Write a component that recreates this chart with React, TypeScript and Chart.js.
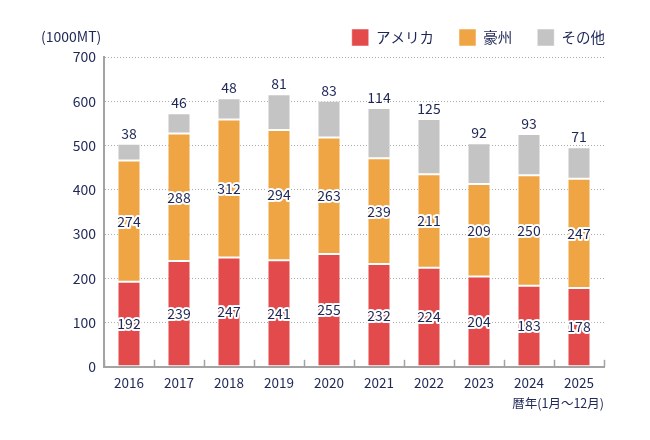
import { useEffect, useRef } from "react";
import { Chart, registerables } from "chart.js";

Chart.register(...registerables);

const years = ["2016", "2017", "2018", "2019", "2020", "2021", "2022", "2023", "2024", "2025"];
const america = [192, 239, 247, 241, 255, 232, 224, 204, 183, 178];
const australia = [274, 288, 312, 294, 263, 239, 211, 209, 250, 247];
const others = [38, 46, 48, 81, 83, 114, 125, 92, 93, 71];
const yTicks = [0, 100, 200, 300, 400, 500, 600, 700];

const TEXT = "#1e2756";
const FONT = "'Noto Sans CJK JP', 'Noto Sans', sans-serif";

const labelsPlugin = {
  id: "stackLabels",
  beforeLayout(chart: any) {
    const lg = chart.legend;
    if (lg && !lg.__patched) {
      const orig = lg.fit;
      lg.fit = function () {
        orig.call(this);
        this.height = 53;
      };
      lg.__patched = true;
    }
  },
  afterLayout(chart: any) {
    // push the legend flush with the right end of the plot
    const lg = chart.legend;
    if (lg) {
      lg.left += 26;
      lg.right += 26;
    }
  },
  afterDatasetsDraw(chart: any) {
    const { ctx, chartArea, scales } = chart;
    ctx.save();
    // inner tick marks between categories
    const xs = scales.x;
    const step = xs.getPixelForValue(1) - xs.getPixelForValue(0);
    ctx.strokeStyle = "#a3a3a3";
    ctx.lineWidth = 1.5;
    for (let i = 0; i <= years.length; i++) {
      const x = Math.round(xs.getPixelForValue(i) - step / 2) + 0.5;
      ctx.beginPath();
      ctx.moveTo(x, chartArea.bottom);
      ctx.lineTo(x, chartArea.bottom - 7);
      ctx.stroke();
    }

    ctx.font = `14px ${FONT}`;
    ctx.textAlign = "center";
    ctx.lineJoin = "round";
    [0, 1].forEach((di) => {
      const meta = chart.getDatasetMeta(di);
      const data = chart.data.datasets[di].data as number[];
      meta.data.forEach((bar: any, i: number) => {
        const y = (bar.y + bar.base) / 2;
        ctx.textBaseline = "middle";
        ctx.lineWidth = 4;
        ctx.strokeStyle = "#ffffff";
        ctx.strokeText(String(data[i]), bar.x, y);
        ctx.fillStyle = TEXT;
        ctx.fillText(String(data[i]), bar.x, y);
      });
    });
    const meta = chart.getDatasetMeta(2);
    meta.data.forEach((bar: any, i: number) => {
      ctx.textBaseline = "alphabetic";
      ctx.fillStyle = TEXT;
      ctx.fillText(String(others[i]), bar.x, bar.y - 5);
    });

    ctx.font = `14px ${FONT}`;
    ctx.textAlign = "left";
    ctx.textBaseline = "middle";
    ctx.fillText("(1000MT)", 41, 37);
    ctx.font = `12.5px ${FONT}`;
    ctx.textAlign = "right";
    ctx.fillText("暦年(1月〜12月)", chartArea.right, 403);
    ctx.restore();
  },
};

export default function App() {
  const canvasRef = useRef<HTMLCanvasElement | null>(null);

  useEffect(() => {
    if (!canvasRef.current) return;
    const chart = new Chart(canvasRef.current, {
      type: "bar",
      data: {
        labels: years,
        datasets: [
          { label: "アメリカ", data: america, backgroundColor: "#e34a4b" },
          { label: "豪州", data: australia, backgroundColor: "#f0a545" },
          { label: "その他", data: others, backgroundColor: "#c3c4c3" },
        ].map((d) => ({
          ...d,
          borderColor: "rgba(255,255,255,0.5)",
          borderWidth: 1,
          borderSkipped: false,
          categoryPercentage: 1,
          barPercentage: 0.46,
        })),
      },
      options: {
        animation: false,
        responsive: true,
        maintainAspectRatio: false,
        layout: { padding: { left: 0, right: 46, top: 4, bottom: 49 } },
        plugins: {
          legend: {
            position: "top",
            align: "end",
            labels: {
              boxWidth: 17,
              boxHeight: 17,
              padding: 25,
              color: TEXT,
              font: { family: FONT, size: 14.5 },
            },
          },
          tooltip: { enabled: false },
        },
        scales: {
          x: {
            stacked: true,
            grid: { display: false },
            border: { color: "#a3a3a3", width: 2 },
            ticks: { color: TEXT, font: { family: FONT, size: 13.5 }, padding: 0 },
          },
          y: {
            stacked: true,
            min: 0,
            max: 700,
            afterFit: (s: any) => {
              s.width = 104;
            },
            afterBuildTicks: (s: any) => {
              s.ticks = yTicks.map((v) => ({ value: v }));
            },
            grid: {
              color: "#aaaaaa",
              drawTicks: false,
              lineWidth: 1,
            },
            border: { color: "#a3a3a3", width: 2, dash: [1, 2] },
            ticks: {
              color: TEXT,
              font: { family: FONT, size: 14 },
              padding: 8,
            },
          },
        },
      },
      plugins: [labelsPlugin],
    });
    return () => chart.destroy();
  }, []);

  return (
    <div style={{ position: "fixed", left: 0, top: 0, width: 650, height: 440, background: "#fff" }}>
      <canvas ref={canvasRef} />
    </div>
  );
}
